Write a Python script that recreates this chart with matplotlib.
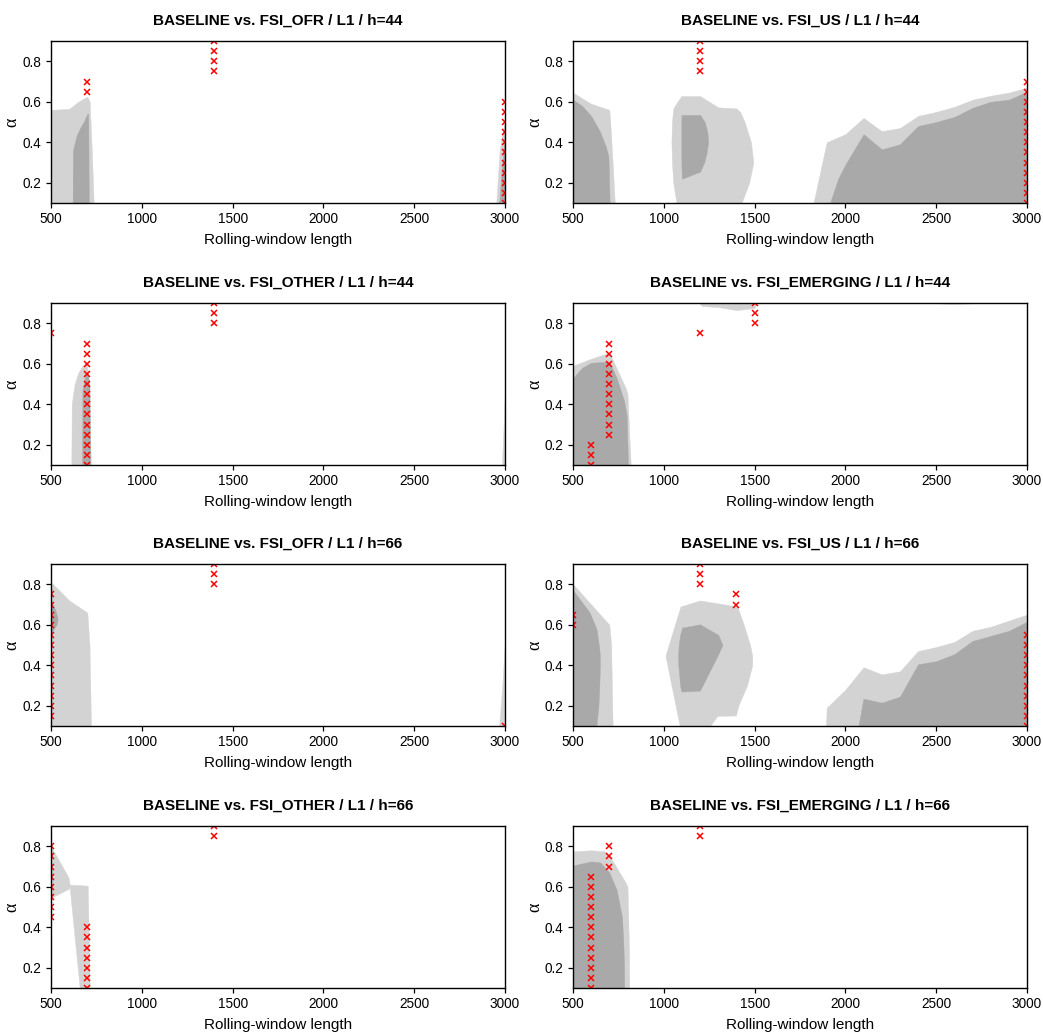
import matplotlib
matplotlib.use("Agg")
import matplotlib.pyplot as plt

plt.rcParams['font.family'] = ['Liberation Sans', 'DejaVu Sans']

LIGHT = '#D3D3D3'
DARK = '#A9A9A9'

# ---------------- data ----------------
titles = ["BASELINE vs. FSI_OFR / L1 / h=44", "BASELINE vs. FSI_US / L1 / h=44",
          "BASELINE vs. FSI_OTHER / L1 / h=44", "BASELINE vs. FSI_EMERGING / L1 / h=44",
          "BASELINE vs. FSI_OFR / L1 / h=66", "BASELINE vs. FSI_US / L1 / h=66",
          "BASELINE vs. FSI_OTHER / L1 / h=66", "BASELINE vs. FSI_EMERGING / L1 / h=66"]
x_ticks = [500, 1000, 1500, 2000, 2500, 3000]
y_ticks = [0.2, 0.4, 0.6, 0.8]

# OFR h=44
OFR44_light_x = [500, 600, 650, 700, 713, 725, 735]
OFR44_light_hi = [0.56, 0.565, 0.60, 0.625, 0.60, 0.35, 0.10]
OFR44_dark_x = [619, 621, 640, 660, 680, 700, 705, 708]
OFR44_dark_hi = [0.10, 0.36, 0.43, 0.47, 0.50, 0.54, 0.54, 0.10]
OFR44_light2_x = [2952, 2970, 2985, 3000]
OFR44_light2_hi = [0.10, 0.35, 0.45, 0.50]
OFR44_dark2_x = [2968, 2985, 3000]
OFR44_dark2_hi = [0.10, 0.30, 0.45]
OFR44_marks = {700: [0.65, 0.70], 1400: [0.75, 0.80, 0.85, 0.90],
               3000: [0.10, 0.15, 0.20, 0.25, 0.30, 0.35, 0.40, 0.45, 0.50, 0.55, 0.60]}

# US h=44
US44_light_x = [500, 600, 700, 705, 718, 730]
US44_light_hi = [0.645, 0.59, 0.56, 0.50, 0.30, 0.10]
US44_dark_x = [500, 550, 600, 650, 680, 695, 702]
US44_dark_hi = [0.61, 0.58, 0.53, 0.45, 0.38, 0.33, 0.10]
US44_isl_light_a = [0.10, 0.20, 0.30, 0.40, 0.50, 0.55, 0.567, 0.572, 0.60, 0.628]
US44_isl_light_left = [1070, 1052, 1045, 1042, 1045, 1050, 1052, 1055, 1075, 1097]
US44_isl_light_right = [1428, 1470, 1493, 1480, 1445, 1420, 1400, 1300, 1250, 1200]
US44_isl_dark_a = [0.22, 0.255, 0.30, 0.35, 0.40, 0.45, 0.50, 0.535]
US44_isl_dark_left = [1100, 1098, 1097, 1097, 1097, 1097, 1097, 1097]
US44_isl_dark_right = [1100, 1200, 1222, 1236, 1244, 1240, 1225, 1200]
US44_light2_x = [1824, 1897, 2000, 2100, 2200, 2300, 2400, 2500, 2600, 2700, 2800, 2900, 3000]
US44_light2_hi = [0.10, 0.40, 0.44, 0.52, 0.455, 0.47, 0.53, 0.55, 0.575, 0.61, 0.63, 0.645, 0.67]
US44_dark2_x = [1915, 1960, 2000, 2100, 2200, 2300, 2400, 2500, 2600, 2700, 2800, 2900, 3000]
US44_dark2_hi = [0.10, 0.22, 0.29, 0.44, 0.365, 0.39, 0.48, 0.50, 0.525, 0.57, 0.60, 0.61, 0.65]
US44_marks = {1200: [0.75, 0.80, 0.85, 0.90],
              3000: [0.10, 0.15, 0.20, 0.25, 0.30, 0.35, 0.40, 0.45, 0.50, 0.55, 0.60, 0.65, 0.70]}

# OTHER h=44
OTHER44_light_x = [612, 614, 630, 650, 670, 695, 705, 720]
OTHER44_light_hi = [0.10, 0.40, 0.50, 0.555, 0.585, 0.61, 0.55, 0.10]
OTHER44_dark_x = [671, 673, 690, 700, 712, 716]
OTHER44_dark_hi = [0.10, 0.47, 0.55, 0.56, 0.50, 0.10]
OTHER44_light2_x = [2983, 2995, 3000]
OTHER44_light2_hi = [0.10, 0.35, 0.50]
OTHER44_marks = {500: [0.75],
                 700: [0.10, 0.15, 0.20, 0.25, 0.30, 0.35, 0.40, 0.45, 0.50, 0.55, 0.60, 0.65, 0.70],
                 1400: [0.80, 0.85, 0.90]}

# EMERGING h=44
EM44_light_x = [500, 600, 700, 790, 800, 812, 818]
EM44_light_hi = [0.59, 0.625, 0.655, 0.48, 0.45, 0.20, 0.10]
EM44_dark_x = [500, 550, 600, 700, 740, 780, 795, 803]
EM44_dark_hi = [0.53, 0.58, 0.605, 0.61, 0.53, 0.42, 0.35, 0.10]
EM44_top_x = [1195, 1210, 1300, 1400, 1500, 1511]
EM44_top_lo = [0.90, 0.885, 0.88, 0.865, 0.875, 0.90]
EM44_top2_x = [2450, 2600, 2750]
EM44_top2_lo = [0.90, 0.895, 0.90]
EM44_marks = {600: [0.10, 0.15, 0.20],
              700: [0.25, 0.30, 0.35, 0.40, 0.45, 0.50, 0.55, 0.60, 0.65, 0.70],
              1200: [0.75], 1500: [0.80, 0.85, 0.90]}

# OFR h=66
OFR66_light_x = [500, 600, 700, 712, 718, 720]
OFR66_light_hi = [0.81, 0.72, 0.66, 0.50, 0.20, 0.10]
OFR66_dark_a = [0.56, 0.60, 0.63, 0.67, 0.72]
OFR66_dark_left = [500, 500, 500, 500, 500]
OFR66_dark_right = [500, 530, 537, 525, 500]
OFR66_light2_x = [2968, 2985, 3000]
OFR66_light2_hi = [0.10, 0.30, 0.53]
OFR66_marks = {500: [0.15, 0.20, 0.25, 0.30, 0.35, 0.40, 0.45, 0.50, 0.55, 0.60, 0.65, 0.70, 0.75],
               1400: [0.80, 0.85, 0.90], 3000: [0.10]}

# US h=66
US66_light_x = [500, 600, 700, 710, 716, 718]
US66_light_hi = [0.80, 0.70, 0.60, 0.50, 0.20, 0.10]
US66_dark_a = [0.10, 0.20, 0.30, 0.40, 0.46, 0.50, 0.58, 0.66, 0.77]
US66_dark_left = [500, 500, 500, 500, 500, 500, 500, 500, 500]
US66_dark_right = [629, 640, 645, 648, 647, 642, 629, 592, 500]
US66_isl_light_a = [0.10, 0.15, 0.152, 0.20, 0.30, 0.40, 0.447, 0.50, 0.60, 0.69, 0.72]
US66_isl_light_left = [1088, 1077, 1076, 1065, 1042, 1020, 1009, 1027, 1061, 1092, 1199]
US66_isl_light_right = [1254, 1295, 1397, 1410, 1458, 1487, 1487, 1475, 1440, 1405, 1199]
US66_isl_dark_a = [0.27, 0.275, 0.30, 0.35, 0.40, 0.45, 0.50, 0.55, 0.586, 0.602]
US66_isl_dark_left = [1100, 1095, 1090, 1085, 1080, 1079, 1082, 1090, 1101, 1199]
US66_isl_dark_right = [1100, 1199, 1213, 1241, 1269, 1297, 1323, 1300, 1230, 1199]
US66_light2_x = [1893, 1897, 2000, 2100, 2200, 2300, 2400, 2500, 2600, 2700, 2800, 2900, 3000]
US66_light2_hi = [0.10, 0.19, 0.28, 0.39, 0.355, 0.37, 0.47, 0.49, 0.515, 0.57, 0.59, 0.62, 0.65]
US66_dark2_x = [2072, 2099, 2200, 2300, 2400, 2500, 2600, 2700, 2800, 2900, 3000]
US66_dark2_hi = [0.10, 0.235, 0.215, 0.245, 0.405, 0.42, 0.455, 0.52, 0.545, 0.57, 0.615]
US66_marks = {500: [0.60, 0.65], 1200: [0.80, 0.85, 0.90], 1400: [0.70, 0.75],
              3000: [0.10, 0.15, 0.20, 0.25, 0.30, 0.35, 0.40, 0.45, 0.50, 0.55]}

# OTHER h=66
OTHER66_light_x = [500, 597, 603, 658, 702, 713]
OTHER66_light_hi = [0.80, 0.645, 0.61, 0.608, 0.605, 0.10]
OTHER66_light_lo = [0.545, 0.59, 0.595, 0.10, 0.10, 0.10]
OTHER66_marks = {500: [0.45, 0.50, 0.55, 0.60, 0.65, 0.70, 0.75, 0.80],
                 700: [0.10, 0.15, 0.20, 0.25, 0.30, 0.35, 0.40],
                 1400: [0.85, 0.90]}

# EMERGING h=66
EM66_light_x = [500, 600, 675, 700, 790, 800, 808, 810]
EM66_light_hi = [0.775, 0.78, 0.775, 0.755, 0.62, 0.60, 0.30, 0.10]
EM66_dark_x = [500, 600, 650, 700, 740, 770, 778, 781, 782]
EM66_dark_hi = [0.705, 0.725, 0.72, 0.67, 0.585, 0.45, 0.30, 0.20, 0.10]
EM66_marks = {600: [0.10, 0.15, 0.20, 0.25, 0.30, 0.35, 0.40, 0.45, 0.50, 0.55, 0.60, 0.65],
              700: [0.70, 0.75, 0.80], 1200: [0.85, 0.90]}

# ---------------- panel specs (built from the arrays above) ----------------
panels = [
    [("y", LIGHT, OFR44_light_x, OFR44_light_hi, None),
     ("y", LIGHT, OFR44_light2_x, OFR44_light2_hi, None),
     ("y", DARK, OFR44_dark_x, OFR44_dark_hi, None),
     ("y", DARK, OFR44_dark2_x, OFR44_dark2_hi, None)],
    [("y", LIGHT, US44_light_x, US44_light_hi, None),
     ("x", LIGHT, US44_isl_light_a, US44_isl_light_left, US44_isl_light_right),
     ("y", LIGHT, US44_light2_x, US44_light2_hi, None),
     ("y", DARK, US44_dark_x, US44_dark_hi, None),
     ("x", DARK, US44_isl_dark_a, US44_isl_dark_left, US44_isl_dark_right),
     ("y", DARK, US44_dark2_x, US44_dark2_hi, None)],
    [("y", LIGHT, OTHER44_light_x, OTHER44_light_hi, None),
     ("y", LIGHT, OTHER44_light2_x, OTHER44_light2_hi, None),
     ("y", DARK, OTHER44_dark_x, OTHER44_dark_hi, None)],
    [("y", LIGHT, EM44_light_x, EM44_light_hi, None),
     ("top", LIGHT, EM44_top_x, EM44_top_lo, None),
     ("top", LIGHT, EM44_top2_x, EM44_top2_lo, None),
     ("y", DARK, EM44_dark_x, EM44_dark_hi, None)],
    [("y", LIGHT, OFR66_light_x, OFR66_light_hi, None),
     ("y", LIGHT, OFR66_light2_x, OFR66_light2_hi, None),
     ("x", DARK, OFR66_dark_a, OFR66_dark_left, OFR66_dark_right)],
    [("y", LIGHT, US66_light_x, US66_light_hi, None),
     ("x", LIGHT, US66_isl_light_a, US66_isl_light_left, US66_isl_light_right),
     ("y", LIGHT, US66_light2_x, US66_light2_hi, None),
     ("x", DARK, US66_dark_a, US66_dark_left, US66_dark_right),
     ("x", DARK, US66_isl_dark_a, US66_isl_dark_left, US66_isl_dark_right),
     ("y", DARK, US66_dark2_x, US66_dark2_hi, None)],
    [("y", LIGHT, OTHER66_light_x, OTHER66_light_hi, OTHER66_light_lo)],
    [("y", LIGHT, EM66_light_x, EM66_light_hi, None),
     ("y", DARK, EM66_dark_x, EM66_dark_hi, None)],
]
marks = [OFR44_marks, US44_marks, OTHER44_marks, EM44_marks,
         OFR66_marks, US66_marks, OTHER66_marks, EM66_marks]

# ---------------- figure ----------------
W, H = 1043, 1032
fig = plt.figure(figsize=(W / 100, H / 100), dpi=100)

col_left_px = [51, 573]
row_top_px = [41, 303, 564, 826]
ax_w_px, ax_h_px = 454, 162

for i in range(8):
    r, c = divmod(i, 2)
    left = col_left_px[c] / W
    bottom = 1 - (row_top_px[r] + ax_h_px) / H
    ax = fig.add_axes([left, bottom, ax_w_px / W, ax_h_px / H])
    ax.set_xlim(500, 3000)
    ax.set_ylim(0.1, 0.9)

    for spec in panels[i]:
        kind, color, a, b, cc = spec
        if kind == "y":
            lo = 0.1 if cc is None else cc
            ax.fill_between(a, lo, b, color=color, lw=0.3, edgecolor=color, zorder=1)
        elif kind == "top":
            ax.fill_between(a, b, 0.9, color=color, lw=0.3, edgecolor=color, zorder=1)
        else:
            ax.fill_betweenx(a, b, cc, color=color, lw=0.3, edgecolor=color, zorder=1)

    for xv, alist in marks[i].items():
        ax.plot([xv] * len(alist), alist, linestyle='none', marker='x', color='red',
                markersize=3.8, markeredgewidth=1.1, zorder=3)

    ax.set_xticks(x_ticks)
    ax.set_xticklabels([str(v) for v in x_ticks])
    ax.set_yticks(y_ticks)
    ax.set_yticklabels([f"{v:.1f}" for v in y_ticks])
    ax.tick_params(direction='out', length=3.6, width=0.9, labelsize=9.8, colors='black')
    ax.tick_params(axis='x', pad=3)
    ax.tick_params(axis='y', pad=3.5)
    for s in ax.spines.values():
        s.set_linewidth(1.0)
        s.set_zorder(4)
    ax.set_title(titles[i], fontsize=11, fontweight='bold', pad=12)
    ax.set_xlabel("Rolling-window length", fontsize=11, labelpad=5)
    ax.set_ylabel("α", fontsize=13, family=['Liberation Serif', 'DejaVu Serif'], labelpad=1)

fig.savefig("out.png", dpi=100)
